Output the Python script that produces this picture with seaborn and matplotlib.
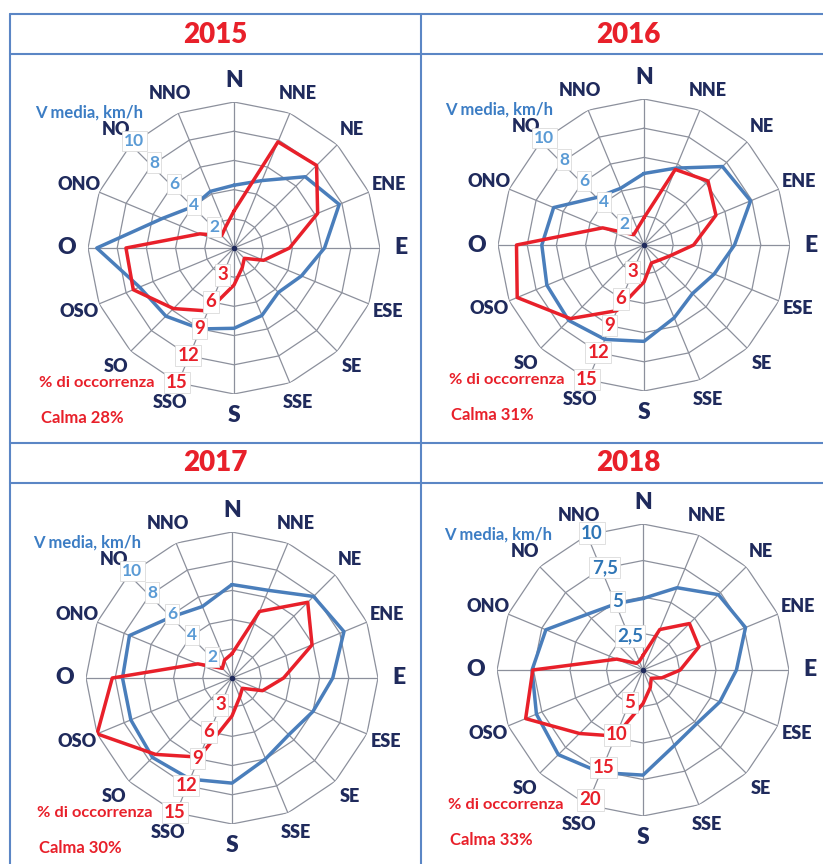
import matplotlib
matplotlib.use('Agg')
import matplotlib.pyplot as plt
from matplotlib.lines import Line2D
import numpy as np
import pandas as pd
import seaborn as sns

# wind directions (Italian labels), clockwise from North
directions = ['N', 'NNE', 'NE', 'ENE', 'E', 'ESE', 'SE', 'SSE',
              'S', 'SSO', 'SO', 'OSO', 'O', 'ONO', 'NO', 'NNO']
years = ['2015', '2016', '2017', '2018']

# mean wind speed, km/h
speed_2015 = [4.3, 5.0, 6.9, 7.8, 6.2, 5.0, 4.3, 5.0, 5.5, 6.0, 6.6, 7.0, 9.4, 5.3, 4.0, 4.2]
speed_2016 = [4.9, 5.7, 7.6, 7.9, 6.2, 5.2, 4.7, 5.4, 6.6, 7.0, 7.3, 7.2, 7.0, 6.7, 4.6, 4.2]
speed_2017 = [6.4, 6.5, 7.9, 8.3, 6.9, 6.0, 5.5, 6.0, 7.2, 7.5, 7.7, 7.5, 7.5, 7.6, 5.9, 5.3]
speed_2018 = [4.9, 6.1, 7.3, 7.6, 6.4, 5.7, 5.2, 5.6, 7.2, 7.6, 8.2, 7.9, 7.6, 7.2, 5.4, 4.9]

# % of occurrence
freq_2015 = [3.8, 11.8, 12.0, 9.3, 5.7, 3.3, 1.5, 2.2, 3.8, 7.0, 8.8, 11.2, 11.1, 3.8, 1.8, 2.3]
freq_2016 = [2.8, 8.4, 9.3, 8.0, 5.1, 2.9, 2.2, 2.0, 3.8, 7.3, 10.7, 14.1, 13.1, 4.6, 1.5, 1.8]
freq_2017 = [2.5, 7.4, 11.0, 8.9, 5.3, 3.4, 1.5, 2.1, 3.9, 8.8, 11.1, 15.0, 12.3, 3.8, 1.4, 2.0]
freq_2018 = [2.0, 6.0, 9.0, 8.3, 5.1, 2.8, 1.6, 2.6, 4.6, 9.8, 12.3, 17.4, 15.1, 3.9, 1.3, 1.3]

calma = ['Calma 28%', 'Calma 31%', 'Calma 30%', 'Calma 33%']

speed_ticks_a = [2, 4, 6, 8, 10]
speed_labels_a = ['2', '4', '6', '8', '10']
freq_ticks_a = [3, 6, 9, 12, 15]
freq_labels_a = ['3', '6', '9', '12', '15']
speed_ticks_b = [2.5, 5, 7.5, 10]
speed_labels_b = ['2,5', '5', '7,5', '10']
freq_ticks_b = [5, 10, 15, 20]
freq_labels_b = ['5', '10', '15', '20']

speeds = [speed_2015, speed_2016, speed_2017, speed_2018]
freqs = [freq_2015, freq_2016, freq_2017, freq_2018]

sns.set_style('white')
plt.rcParams['font.family'] = ['Lato', 'DejaVu Sans']

BLUE = '#4A7EBB'
BLUE_TXT = '#3C7DC4'
BLUE_TICK = '#5B9BD5'
RED = '#E8202A'
NAVY = '#1F2A5C'
GRID = '#8C909C'
TABLE = '#5B86C5'

W, H = 823, 864
R = 146
fig = plt.figure(figsize=(W / 100, H / 100), dpi=100)

# table frame
for y in [14, 54, 443, 483]:
    fig.add_artist(Line2D([10 / W, 1], [1 - y / H] * 2, color=TABLE, lw=1.5))
for x in [10, 421]:
    fig.add_artist(Line2D([x / W] * 2, [1 - 14 / H, 0], color=TABLE, lw=1.5))

header_pos = [(215.5, 35), (628, 35), (215.5, 463), (628, 463)]
for (hx, hy), yr in zip(header_pos, years):
    fig.text(hx / W, 1 - hy / H, yr, ha='center', va='center', fontsize=20,
             fontweight='heavy', color=RED)

centers = [(234, 248), (644, 245), (232, 678), (643, 670)]
theta = np.deg2rad(np.arange(16) * 22.5)
theta_closed = np.append(theta, 2 * np.pi)

for i, (cx, cy) in enumerate(centers):
    if i < 3:
        s_ticks, s_labels, f_ticks, f_labels = speed_ticks_a, speed_labels_a, freq_ticks_a, freq_labels_a
        s_ang, f_ang, f_scale, s_col = 317, 203, 1.0, BLUE_TICK
    else:
        s_ticks, s_labels, f_ticks, f_labels = speed_ticks_b, speed_labels_b, freq_ticks_b, freq_labels_b
        s_ang, f_ang, f_scale, s_col = 339.5, 202, 0.96, '#2E75B6'
    vmax, fmax = s_ticks[-1], f_ticks[-1]

    rect = [(cx - R) / W, 1 - (cy + R) / H, 2 * R / W, 2 * R / H]
    ax_v = fig.add_axes(rect, projection='polar')
    ax_f = fig.add_axes(rect, projection='polar')
    for a in (ax_v, ax_f):
        a.set_theta_zero_location('N')
        a.set_theta_direction(-1)
        a.grid(False)
        a.spines['polar'].set_visible(False)
        a.patch.set_visible(False)

    # polygonal grid
    for r in s_ticks:
        ax_v.plot(theta_closed, [r] * len(theta_closed), color=GRID, lw=0.9, zorder=1)
    for t in theta:
        ax_v.plot([t, t], [0, vmax], color=GRID, lw=0.9, zorder=1)
    ax_v.plot([0], [0], 'o', ms=3, color=NAVY, zorder=2)

    df_v = pd.DataFrame({'theta': theta_closed, 'val': speeds[i] + speeds[i][:1]})
    df_f = pd.DataFrame({'theta': theta_closed, 'val': freqs[i] + freqs[i][:1]})
    sns.lineplot(data=df_v, x='theta', y='val', ax=ax_v, sort=False, estimator=None,
                 color=BLUE, linewidth=2.5, zorder=3)
    sns.lineplot(data=df_f, x='theta', y='val', ax=ax_f, sort=False, estimator=None,
                 color=RED, linewidth=2.5, zorder=3)

    for a, top in ((ax_v, vmax), (ax_f, fmax)):
        a.set_ylim(0, top)
        a.set_xticks([])
        a.set_yticks([])
        a.set_xlabel('')
        a.set_ylabel('')

    # direction labels
    for t, d in zip(theta, directions):
        big = d in ('N', 'E', 'S', 'O')
        ax_f.text(t, 1.145 * fmax, d, ha='center', va='center',
                  fontsize=16.5 if big else 13, fontweight='heavy', color=NAVY,
                  clip_on=False, zorder=6)

    box = dict(boxstyle='square,pad=0.12', fc='white', ec='#DADADA', lw=0.6)
    for v, lab in zip(s_ticks, s_labels):
        ax_f.text(np.deg2rad(s_ang), v, lab, transform=ax_v.transData,
                  ha='center', va='center', fontsize=12.5 if i < 3 else 13.5,
                  fontweight='bold', color=s_col, bbox=box, clip_on=False, zorder=7)
    for v, lab in zip(f_ticks, f_labels):
        ax_f.text(np.deg2rad(f_ang), v * f_scale, lab, ha='center', va='center',
                  fontsize=13.5, fontweight='bold', color=RED, bbox=box,
                  clip_on=False, zorder=7)

    fig.text((cx - 199) / W, 1 - (cy - 135) / H, 'V media, km/h', ha='left', va='center',
             fontsize=12, fontweight='bold', color=BLUE_TXT)
    fig.text((cx - 195) / W, 1 - (cy + 135) / H, '% di occorrenza', ha='left', va='center',
             fontsize=11.8, fontweight='bold', color=RED)
    fig.text((cx - 193) / W, 1 - (cy + 170) / H, calma[i], ha='left', va='center',
             fontsize=12, fontweight='bold', color=RED)

fig.savefig('out.png', dpi=100)
